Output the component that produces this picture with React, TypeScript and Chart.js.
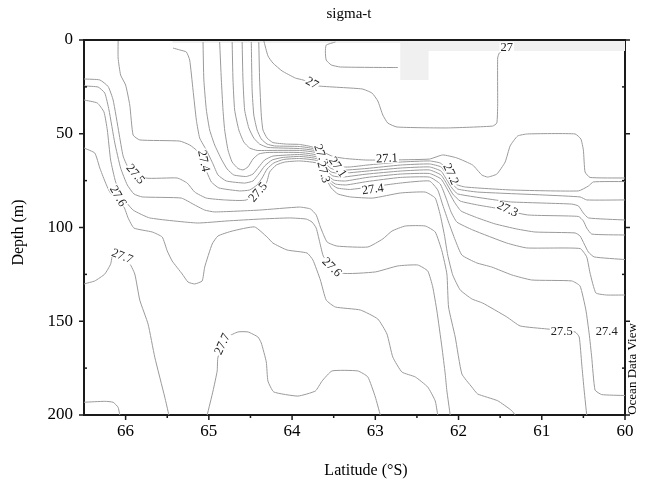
import React, { useEffect, useRef } from "react";
import { Chart, registerables } from "chart.js";

Chart.register(...registerables);

// ---------- axes ----------
const latTicks = [60, 61, 62, 63, 64, 65, 66];
const latMinorTicks = [60.5, 61.5, 62.5, 63.5, 64.5, 65.5];
const depthTicks = [0, 50, 100, 150, 200];
const depthMinorTicks = [25, 75, 125, 175];

const chartTitle = "sigma-t";
const xTitle = "Latitude (\u00B0S)";
const yTitle = "Depth (m)";
const credit = "Ocean Data View";

// ---------- sigma-t contour lines: [latitude (deg S), depth (m)] ----------
const iso27Cap = [[63.48,1.1],[63.59,2.7],[63.6,6.4],[63.59,10.7],[63.53,13.3],[63.42,14.4],[62.73,14.7]];
const iso27 = [[64.34,0.3],[64.29,8.5],[64.23,12.3],[64.12,16.5],[63.96,20.3],[63.87,21.3],[63.76,22.9],[63.69,24.5],[63.16,26.1],[63.04,28.3],[62.97,32.5],[62.91,40],[62.85,44.3],[62.74,46.4],[62.14,46.9],[61.59,45.9],[61.54,44.3],[61.53,34.7],[61.53,9.6],[61.51,6.9],[61.47,5.9],[61.37,5.3]];
const iso271 = [[64.4,1.1],[64.39,21.3],[64.37,40],[64.35,48],[64.3,52.3],[64.23,54.7],[64.07,55.5],[63.91,55.7],[63.75,57.1],[63.6,60.3],[63.51,62.1],[63.36,63.2],[63.12,64],[62.86,64],[62.35,63.5],[62.19,61.3],[62.02,62.9],[61.83,66.7],[61.72,72],[61.65,73.1],[61.54,71.5],[61.44,65.1],[61.38,56.5],[61.29,51.2],[61.17,50.1],[60.6,50.1],[60.53,52.8],[60.5,58.7],[60.48,70.4],[60.42,73.3],[60.0,73.6]];
const iso272 = [[64.49,1.1],[64.48,26.7],[64.46,40],[64.42,48],[64.37,52.8],[64.3,55.5],[64.21,56.5],[63.91,56.8],[63.75,57.9],[63.69,59.7],[63.63,63.2],[63.57,65.9],[63.47,67.7],[63.3,67.7],[63.1,66.7],[62.7,65.1],[62.35,64.5],[62.22,65.6],[62.15,68.3],[62.09,72.5],[62.04,76.8],[61.92,78.4],[61.36,80],[60.56,80.5],[60.44,77.9],[60.38,75.7],[60.0,75.5]];
const iso273a = [[64.6,1.1],[64.59,21.3],[64.57,37.3],[64.52,46.9],[64.46,52.3],[64.39,55.5],[64.29,57.3],[63.91,57.9],[63.74,58.9],[63.66,61.9],[63.6,65.6],[63.54,68.3],[63.45,69.6],[63.1,68.5],[62.7,66.7],[62.35,66.1],[62.21,67.7],[62.13,72.5],[62.07,76.8],[62.01,79.5],[61.77,81.1],[60.96,82.7],[60.54,83.7],[60.46,85.3],[60.0,85.3]];
const iso273b = [[64.72,1.1],[64.71,21.3],[64.69,37.3],[64.64,48],[64.58,54.4],[64.51,57.6],[64.42,58.9],[64.31,58.9],[63.91,58.9],[63.72,60],[63.65,63.5],[63.59,67.7],[63.53,70.4],[63.42,71.2],[63.1,69.9],[62.7,68.3],[62.35,67.7],[62.21,69.9],[62.14,74.7],[62.08,78.9],[62.01,82.1],[61.56,85.3],[61.36,86.4],[60.64,87.5],[60.56,88.5],[60.5,92.3],[60.44,94.9],[60.0,96]];
const iso273c = [[64.87,1.1],[64.85,21.3],[64.83,37.3],[64.81,48],[64.77,58.7],[64.72,65.1],[64.65,68.5],[64.59,69.3],[64.53,67.7],[64.47,63.5],[64.4,60.8],[64.3,60],[63.91,60],[63.71,61.3],[63.64,65.6],[63.58,69.9],[63.51,72.5],[63.39,73.1],[63.1,71.5],[62.7,69.9],[62.35,69.3],[62.21,72],[62.14,76.8],[62.07,82.1],[61.98,85.9],[61.77,88],[61.56,89.6],[61.17,93.3],[60.56,94.1],[60.5,96.5],[60.46,100.3],[60.4,103.5],[60.0,104]];
const iso274a = [[65.07,1.1],[65.06,21.3],[65.03,37.3],[64.99,48],[64.93,56],[64.85,63.5],[64.78,68.8],[64.7,72],[64.55,72.8],[64.47,71.5],[64.4,67.7],[64.33,64],[64.23,61.9],[63.91,61.1],[63.7,62.4],[63.63,67.2],[63.57,72],[63.5,74.7],[63.36,75.2],[63.1,73.3],[62.7,71.5],[62.35,71.2],[62.21,74.1],[62.13,80],[62.05,86.4],[61.97,91.2],[61.77,94.9],[61.56,98.1],[61.3,100.8],[61.08,102.4],[60.6,102.9],[60.54,104.5],[60.49,108.8],[60.44,113.1],[60.37,115.7],[60.0,117.1]];
const iso274b = [[65.43,4.3],[65.35,5.3],[65.27,6.4],[65.23,10.7],[65.19,26.7],[65.15,42.7],[65.11,52.3],[65.03,58.7],[64.95,66.1],[64.89,72],[64.79,75.2],[64.57,76.3],[64.47,75.2],[64.4,71.5],[64.33,67.2],[64.24,64],[64.12,62.7],[63.91,62.1],[63.69,63.5],[63.62,69.3],[63.56,74.1],[63.48,76.8],[63.35,77.3],[63.1,75.5],[62.7,73.3],[62.35,73.1],[62.22,76.8],[62.15,84.3],[62.09,91.7],[62.02,97.1],[61.83,101.3],[61.42,108.3],[61.18,110.9],[60.54,111.2],[60.46,115.7],[60.42,124.3],[60.35,134.9],[60.22,136],[60.0,136]];
const iso274c = [[66.09,0.3],[66.09,9.6],[66.06,18.7],[66.0,24],[65.95,34.7],[65.91,50.7],[65.83,53.3],[65.35,53.9],[65.23,56],[65.14,59.2],[65.02,70.9],[64.97,75.7],[64.88,78.9],[64.63,80.5],[64.51,80],[64.42,77.3],[64.36,73.6],[64.3,68.8],[64.22,65.6],[64.1,63.7],[63.91,63.2],[63.69,64.5],[63.62,70.9],[63.54,76.3],[63.46,78.9],[63.3,79.7],[62.7,76.3],[62.35,75.2],[62.25,80],[62.19,88],[62.12,97.1],[62.04,106.7],[61.96,114.7],[61.78,118.9],[61.6,121.1],[61.36,125.3],[61.12,128],[60.64,128.5],[60.54,131.2],[60.47,144],[60.43,156.8],[60.4,169.1],[60.36,186.7],[60.28,189.1],[60.0,189.6]];
const iso275 = [[66.5,20.8],[66.31,21.3],[66.21,24.8],[66.15,32],[66.08,49.6],[66.03,61.9],[65.97,67.7],[65.76,73.6],[65.38,73.6],[65.26,76.3],[65.17,81.1],[65.03,84.3],[64.81,85.3],[64.55,85.3],[64.31,76.3],[64.27,70.4],[64.19,66.7],[64.09,65.1],[63.91,64.5],[63.68,65.9],[63.6,73.1],[63.53,78.9],[63.45,82.1],[63.3,83.7],[63.03,84.3],[62.7,81.6],[62.4,81.1],[62.28,84.3],[62.22,93.3],[62.17,104],[62.13,114.7],[62.07,125.3],[61.98,133.3],[61.84,138.1],[61.71,140.3],[61.42,147.7],[61.26,152.5],[60.94,154.1],[60.6,155.7],[60.55,158.4],[60.52,172.8],[60.49,187.2],[60.46,200]];
const iso275b = [[66.5,24.5],[66.33,25.1],[66.25,28.3],[66.2,37.3],[66.13,54.9],[66.06,68.3],[65.98,77.3],[65.9,82.1],[65.8,83.7],[65.33,84.3],[65.19,87.5],[65.05,90.7],[64.93,91.7],[64.39,90.7],[63.91,89.1],[63.78,90.1],[63.71,93.3],[63.66,99.7],[63.58,107.7],[63.46,109.9],[63.09,110.4],[62.91,106.1],[62.8,101.9],[62.64,99.2],[62.4,99.2],[62.28,102.4],[62.2,112.5],[62.14,124.8],[62.12,142.4],[62.04,158.4],[61.96,178.1],[61.84,185.1],[61.77,188.8],[61.53,192.4],[61.36,197.7],[61.32,200]];
const iso276a = [[66.5,32],[66.34,33.6],[66.26,38.4],[66.22,48],[66.18,64],[66.12,75.7],[66.03,84.3],[65.91,90.7],[65.71,94.9],[65.14,97.6],[64.78,96.5],[64.39,95.5],[64.03,94.9],[63.83,95.5],[63.76,97.1],[63.71,100.3],[63.66,109.3],[63.62,115.7],[63.41,124.3],[63.0,123.7],[62.73,120.5],[62.49,120],[62.37,123.2],[62.31,131.7],[62.26,144.5],[62.2,163.7],[62.16,178.1],[62.14,187.2],[62.1,200]];
const iso276b = [[66.5,57.6],[66.37,60.3],[66.31,68.3],[66.25,75.2],[66.19,81.1],[66.02,89.1],[65.97,94.9],[65.9,100.3],[65.68,102.4],[65.56,105.1],[65.5,112.5],[65.44,117.9],[65.32,124.8],[65.25,129.1],[65.17,130.1],[65.08,128.5],[65.05,121.1],[64.96,108.8],[64.89,104.5],[64.72,101.9],[64.45,99.7],[64.3,105.1],[64.23,108.3],[64.06,112],[63.82,113.6],[63.75,117.3],[63.66,128],[63.59,138.7],[63.48,142.4],[63.18,144],[62.97,148.8],[62.86,156.8],[62.79,169.1],[62.68,177.1],[62.52,179.7],[62.37,185.1],[62.28,192.5],[62.25,200]];
const iso277a = [[66.5,130.1],[66.37,128.5],[66.25,124.8],[66.18,119.5],[66.15,114.1],[65.97,117.9],[65.89,124.8],[65.83,138.7],[65.73,151.5],[65.65,169.1],[65.53,190.4],[65.48,200]];
const iso277b = [[65.02,200],[64.95,187.2],[64.9,176.5],[64.89,169.1],[64.77,158.4],[64.65,155.7],[64.53,155.7],[64.41,158.4],[64.37,161.6],[64.31,171.7],[64.29,181.9],[64.22,187.7],[63.93,189.9],[63.72,187.2],[63.64,181.9],[63.52,176.5],[63.21,176.5],[63.09,179.7],[63.0,190.4],[62.94,200]];
const iso277c = [[66.5,193.2],[66.25,192.7],[66.15,193.2],[66.09,195.9],[66.07,200]];

// area without data near the surface (drawn as its lower edge, filled up to 0 m)
const noDataEdge = [[65.44,1.6],[62.7,1.6],[62.7,21.3],[62.36,21.3],[62.36,5.9],[60,5.9]];

// ---------- contour labels ----------
const labelText = ["27","27","27.1","27.2","27.3","27.1","27.4","27.2","27.3","27.4","27.5","27.5","27.6","27.6","27.7","27.7","27.5","27.4"];
const labelLat = [63.76,61.42,62.86,63.65,63.62,63.45,63.03,62.09,61.41,65.06,64.41,65.88,66.09,63.52,66.04,64.84,60.76,60.22];
const labelDepth = [22.9,3.9,63.0,61.3,70.4,67.7,79.5,71.5,90.1,64.5,81.1,71.5,83.2,121.1,115.2,162.1,155.2,155.2];
const labelAngle = [30,0,-3,70,75,55,-8,65,25,78,-50,50,60,45,22,-65,0,0];

const SERIF = '"Liberation Serif", "Times New Roman", Times, serif';
const AXIS = "#1a1a1a";
const LINE = "#9a9a9a";

const decor = {
  id: "decor",
  afterDatasetsDraw(chart: any) {
    const { ctx, scales } = chart;
    const x = scales.x, y = scales.y;
    ctx.save();
    ctx.font = `12.5px ${SERIF}`;
    ctx.textAlign = "center";
    ctx.textBaseline = "middle";
    for (let i = 0; i < labelText.length; i++) {
      const px = x.getPixelForValue(labelLat[i]);
      const py = y.getPixelForValue(labelDepth[i]);
      ctx.save();
      ctx.translate(px, py);
      ctx.rotate((labelAngle[i] * Math.PI) / 180);
      const w = ctx.measureText(labelText[i]).width;
      ctx.fillStyle = "#ffffff";
      ctx.fillRect(-w / 2 - 1, -5, w + 2, 10);
      ctx.fillStyle = "#222222";
      ctx.fillText(labelText[i], 0, 0.5);
      ctx.restore();
    }
    ctx.restore();
  },
  afterDraw(chart: any) {
    const { ctx, chartArea: a, scales } = chart;
    const x = scales.x, y = scales.y;
    ctx.save();
    ctx.strokeStyle = AXIS;
    ctx.lineWidth = 2;
    ctx.beginPath();
    ctx.moveTo(a.left - 1, a.top);
    ctx.lineTo(a.right + 1, a.top);
    ctx.stroke();
    ctx.lineWidth = 1.5;
    const seg = (x1: number, y1: number, x2: number, y2: number) => {
      ctx.beginPath();
      ctx.moveTo(x1, y1);
      ctx.lineTo(x2, y2);
      ctx.stroke();
    };
    latTicks.forEach((v) => { const p = x.getPixelForValue(v); seg(p, a.bottom, p, a.bottom + 5); });
    latMinorTicks.forEach((v) => { const p = x.getPixelForValue(v); seg(p, a.bottom, p, a.bottom + 3); });
    depthTicks.forEach((v) => {
      const p = y.getPixelForValue(v);
      seg(a.left - 5, p, a.left, p);
      seg(a.right, p, a.right + 5, p);
    });
    depthMinorTicks.forEach((v) => {
      const p = y.getPixelForValue(v);
      seg(a.left, p, a.left + 3, p);
      seg(a.right - 3, p, a.right, p);
    });
    ctx.fillStyle = "#000";
    ctx.textAlign = "center";
    ctx.textBaseline = "middle";
    ctx.font = `15px ${SERIF}`;
    ctx.fillText(chartTitle, 349, 14);
    ctx.font = `16px ${SERIF}`;
    ctx.fillText(xTitle, 366, 471);
    ctx.save();
    ctx.translate(19, (a.top + a.bottom) / 2 + 5);
    ctx.rotate(-Math.PI / 2);
    ctx.fillText(yTitle, 0, 0);
    ctx.restore();
    ctx.save();
    ctx.font = `13px ${SERIF}`;
    ctx.translate(a.right + 8, a.bottom - 46);
    ctx.rotate(-Math.PI / 2);
    ctx.fillText(credit, 0, 0);
    ctx.restore();
    ctx.restore();
  },
};

export default function App() {
  const ref = useRef<HTMLCanvasElement>(null);
  useEffect(() => {
    const canvas = ref.current;
    if (!canvas) return;
    const contours = [iso27Cap, iso27, iso271, iso272, iso273a, iso273b, iso273c, iso274a, iso274b, iso274c, iso275, iso275b, iso276a, iso276b, iso277a, iso277b, iso277c];
    const datasets: any[] = contours.map((pts) => ({
      data: pts.map(([lx, dy]) => ({ x: lx, y: dy })),
      showLine: true,
      borderColor: LINE,
      borderWidth: 1,
      pointRadius: 0,
      tension: 0.15,
      fill: false,
      order: 1,
    }));
    datasets.push({
      data: noDataEdge.map(([lx, dy]) => ({ x: lx, y: dy })),
      showLine: true,
      borderColor: "rgba(0,0,0,0)",
      borderWidth: 0,
      backgroundColor: "#f0f0f0",
      fill: { value: 0 },
      pointRadius: 0,
      tension: 0,
      order: 5,
    });
    const tickFont = { family: SERIF, size: 17 };
    const chart = new Chart(canvas, {
      type: "scatter",
      data: { datasets },
      options: {
        animation: false,
        responsive: false,
        layout: { padding: { top: 40, left: 0, right: 0, bottom: 0 } },
        plugins: { legend: { display: false }, tooltip: { enabled: false }, title: { display: false } },
        scales: {
          x: {
            type: "linear", min: 60, max: 66.5, reverse: true, position: "bottom",
            afterBuildTicks: (s: any) => { s.ticks = latTicks.map((v) => ({ value: v })); },
            afterFit: (s: any) => { s.height = 72; },
            grid: { display: false, drawTicks: false, tickLength: 0 },
            border: { display: true, color: AXIS, width: 2 },
            ticks: { padding: 6, maxRotation: 0, autoSkip: false, color: "#000", font: tickFont },
          },
          y: {
            type: "linear", min: 0, max: 200, reverse: true, position: "left",
            afterBuildTicks: (s: any) => { s.ticks = depthTicks.map((v) => ({ value: v })); },
            afterFit: (s: any) => { s.width = 84; },
            grid: { display: false, drawTicks: false, tickLength: 0 },
            border: { display: true, color: AXIS, width: 2 },
            ticks: { padding: 11, color: "#000", font: tickFont },
          },
          y2: {
            type: "linear", min: 0, max: 200, reverse: true, position: "right",
            afterFit: (s: any) => { s.width = 20; },
            grid: { display: false, drawTicks: false, tickLength: 0 },
            border: { display: true, color: AXIS, width: 2 },
            ticks: { display: false },
          },
        },
      } as any,
      plugins: [decor],
    });
    return () => chart.destroy();
  }, []);
  return (
    <div style={{ position: "absolute", left: 0, top: 0, width: 645, height: 487, background: "#fff" }}>
      <canvas ref={ref} width={645} height={487} style={{ display: "block", width: 645, height: 487 }} />
    </div>
  );
}
